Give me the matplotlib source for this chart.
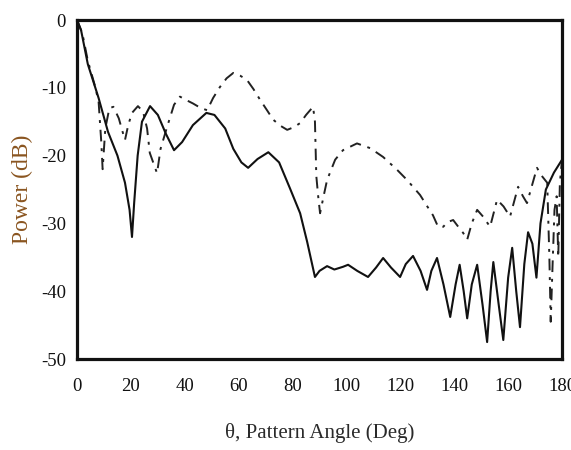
import matplotlib
matplotlib.use("Agg")
import matplotlib.pyplot as plt

# Pattern angle (deg) and power (dB) for the solid trace
solid_angle = [0, 1.5, 4, 8, 11.5, 15, 17.8, 19.5, 20.4, 21.2, 22.5, 24.1, 27.1, 30,
               33, 36, 39, 43, 48, 51, 55, 58, 61, 63.5, 67, 71, 75, 79, 82.8, 85.4,
               88.3, 90, 92.8, 95.5, 98.7, 100.6, 104, 108, 111, 113.6, 116.5, 119.9,
               122, 124.7, 127.5, 129.9, 131.5, 133.6, 136, 138.5, 140.5, 142, 143.5,
               144.8, 146.5, 148.5, 150.5, 152.2, 153.5, 154.5, 156.5, 158.2, 160,
               161.5, 163, 164.4, 166, 167.4, 169, 170.5, 172, 174, 177, 180]
solid_db = [0, -1.5, -6.5, -11.5, -16.5, -20, -24, -28, -32, -27, -20, -15, -12.7, -14,
            -16.8, -19.2, -18, -15.5, -13.7, -14, -16, -19, -21, -21.8, -20.5, -19.5,
            -21, -24.8, -28.5, -32.7, -37.9, -37, -36.3, -36.8, -36.4, -36.1, -37,
            -37.9, -36.5, -35.1, -36.5, -37.9, -36, -34.8, -37, -39.8, -37, -35.1,
            -39, -43.8, -39, -36.1, -40, -44, -39, -36.1, -42, -47.5, -40, -35.7,
            -42, -47.2, -38, -33.6, -40, -45.3, -36, -31.3, -33, -38, -30, -25,
            -22.5, -20.6]

# Pattern angle (deg) and power (dB) for the dash-dot trace
dash_angle = [0, 2, 4, 6.5, 8, 9, 9.5, 10.5, 12, 13.5, 15.5, 16.7, 17.8, 19, 20.4,
              22.6, 24.5, 26, 27, 29.7, 31, 33.4, 36, 38.2, 40.5, 43, 46, 48.3, 50.5,
              53, 55.5, 58, 60.5, 63, 65.5, 68, 70.5, 72.8, 75.5, 78, 80.5, 82.8, 85,
              87.6, 88.3, 88.8, 89.5, 90.2, 91.5, 92.8, 95.8, 98.7, 103.9, 108.8,
              113.6, 118.8, 122.5, 127.3, 130, 132.1, 134, 135.9, 137.5, 139.6,
              141.5, 143.3, 144.8, 146.5, 148.5, 150.7, 153.3, 155.9, 158.3, 160.7,
              163.7, 165.5, 167, 170.7, 172.5, 174.5, 175.3, 175.8, 176.5, 177.2,
              178, 178.6, 179.2, 180]
dash_db = [0, -2, -6, -9.5, -12, -18, -22, -16, -13, -12.8, -14.5, -16.2, -17.7,
           -15.5, -13.7, -12.7, -13.5, -16, -19.6, -22.6, -19, -15.8, -12.5, -11.3,
           -11.8, -12.3, -13, -13.3, -11.5, -9.9, -8.6, -7.8, -8.2, -8.8, -10.2,
           -11.8, -13.3, -14.7, -15.6, -16.2, -15.8, -15.2, -14, -12.8, -15, -23,
           -26, -28.5, -26, -23.6, -20.6, -19.2, -18.2, -18.9, -20.2, -22.1, -23.6,
           -25.8, -27.5, -28.8, -30.5, -30.5, -29.8, -29.5, -30.5, -31.4, -32.4,
           -30, -28, -29, -30.5, -26.5, -27.5, -29, -24.6, -26, -27, -21.8, -23,
           -24, -35, -44.5, -36, -28, -26, -35, -24, -20.6]

x_ticks = [0, 20, 40, 60, 80, 100, 120, 140, 160, 180]
y_ticks = [0, -10, -20, -30, -40, -50]

fig = plt.figure(figsize=(5.71, 4.5), dpi=100)
ax = fig.add_axes([0.1349, 0.2022, 0.8494, 0.7533])

ax.plot(dash_angle, dash_db, color="#222222", linewidth=1.4,
        linestyle=(0, (6, 3.5, 1.5, 3.5)))
ax.plot(solid_angle, solid_db, color="#111111", linewidth=1.5)

ax.set_xlim(0, 180)
ax.set_ylim(-50, 0)
ax.set_xticks(x_ticks)
ax.set_yticks(y_ticks)
serif = "Liberation Serif"
ax.set_xticklabels([str(v) for v in x_ticks], fontfamily=serif, fontsize=13.5)
ax.set_yticklabels([str(v) for v in y_ticks], fontfamily=serif, fontsize=13.5)
ax.tick_params(axis="x", length=0, pad=14, colors="#111111")
ax.tick_params(axis="y", length=0, pad=8, colors="#111111")

for sp in ax.spines.values():
    sp.set_linewidth(2.3)
    sp.set_color("#111111")

ax.set_xlabel("θ, Pattern Angle (Deg)", fontfamily=serif, fontsize=15,
              color="#2a2a2a", labelpad=20)
ax.set_ylabel("Power (dB)", fontfamily=serif, fontsize=17,
              color="#8a5520", labelpad=6)

fig.savefig("out.png", dpi=100)
